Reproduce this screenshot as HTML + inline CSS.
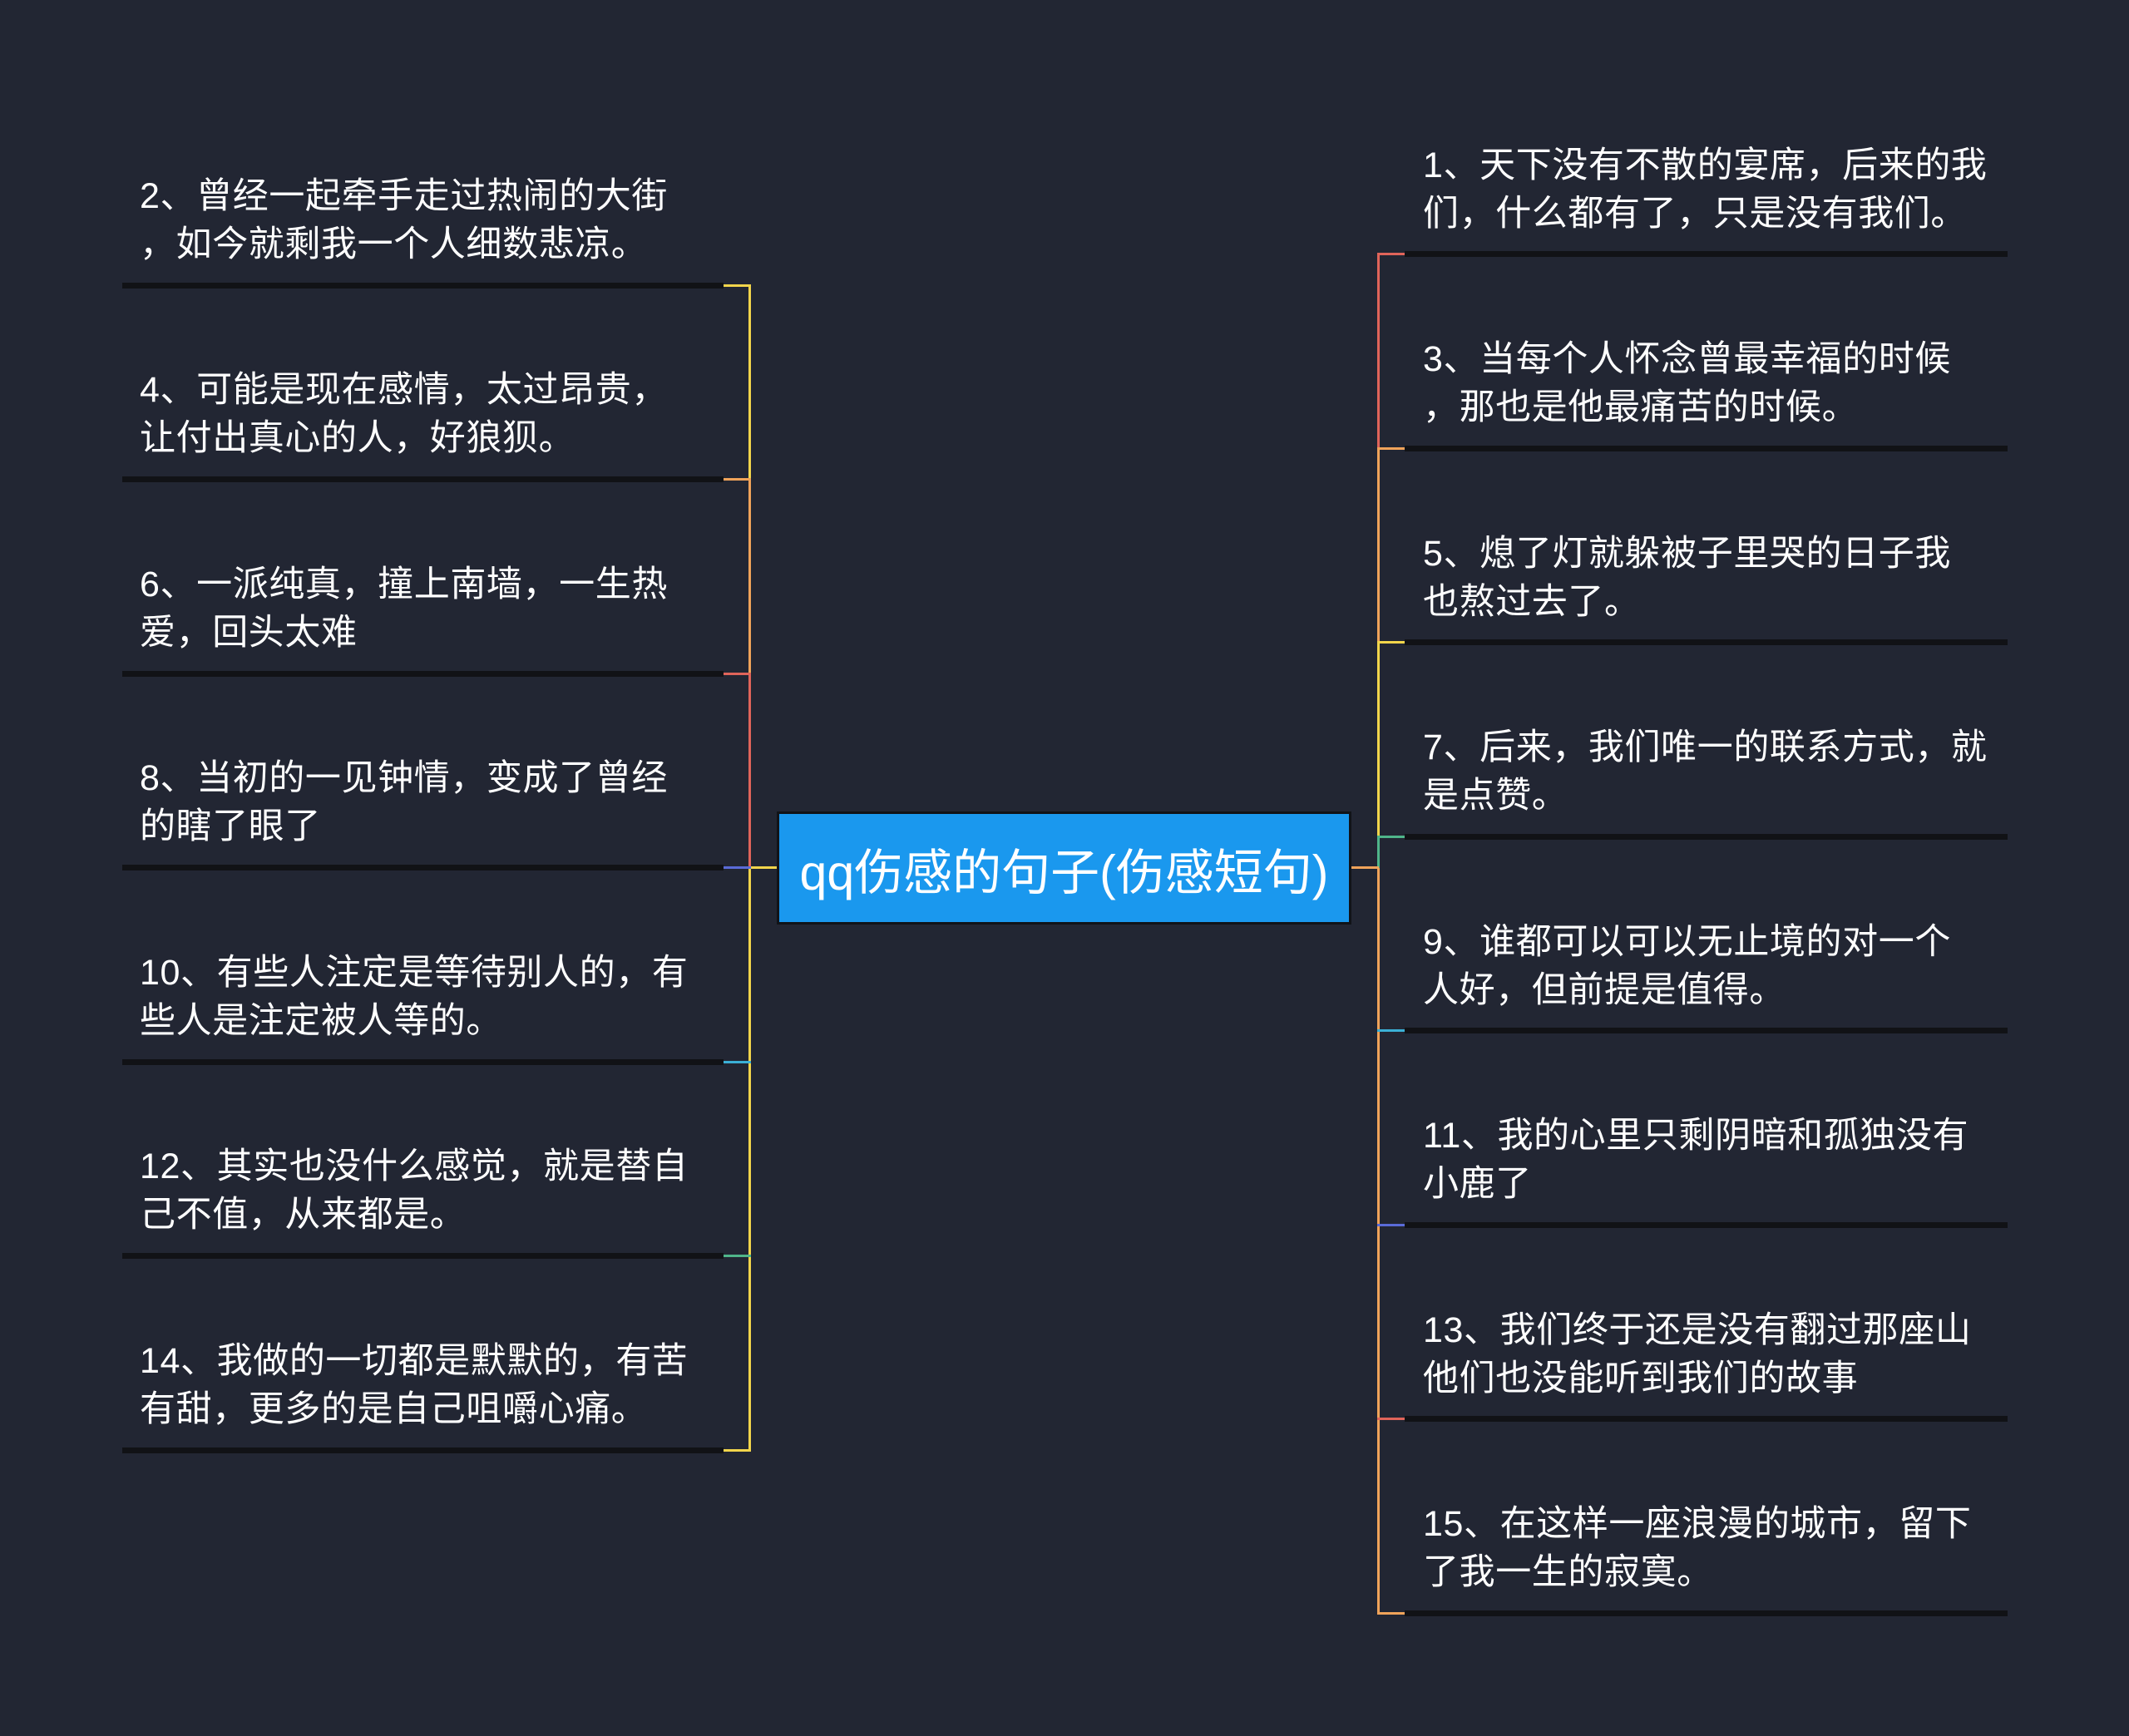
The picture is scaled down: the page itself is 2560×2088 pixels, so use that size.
<!DOCTYPE html>
<html><head><meta charset="utf-8">
<style>
html,body{margin:0;padding:0}
body{width:2560px;height:2088px;background:#222633;position:relative;overflow:hidden;font-family:"Liberation Sans","Noto Sans CJK SC",sans-serif}
.t{position:absolute;color:#fff;font-size:43px;line-height:58px;white-space:nowrap;letter-spacing:0.6px}
.u{position:absolute;height:7px;background:#111216}
.l{position:absolute}
.box{position:absolute;left:934px;top:976px;width:691px;height:136px;background:#1a98ee;border:3px solid #111318;box-sizing:border-box;color:#fff;font-size:59px;display:flex;align-items:center;justify-content:center;white-space:nowrap}
</style></head><body>

<div class="l" style="left:900px;top:343px;width:3px;height:233px;background:#f2d54b"></div>
<div class="l" style="left:900px;top:576px;width:3px;height:234px;background:#f0a35a"></div>
<div class="l" style="left:900px;top:810px;width:3px;height:234px;background:#e0645a"></div>
<div class="l" style="left:900px;top:1044px;width:3px;height:700px;background:#f2d54b"></div>
<div class="l" style="left:870px;top:342px;width:33px;height:3px;background:#f2d54b"></div>
<div class="l" style="left:870px;top:575px;width:33px;height:3px;background:#f0a35a"></div>
<div class="l" style="left:870px;top:809px;width:33px;height:3px;background:#e0645a"></div>
<div class="l" style="left:870px;top:1042px;width:33px;height:3px;background:#5a6bd8"></div>
<div class="l" style="left:870px;top:1276px;width:33px;height:3px;background:#3bb0d6"></div>
<div class="l" style="left:870px;top:1509px;width:33px;height:3px;background:#4fb58a"></div>
<div class="l" style="left:870px;top:1743px;width:33px;height:3px;background:#f2d54b"></div>
<div class="l" style="left:903px;top:1042px;width:31px;height:3px;background:#f2d54b"></div>

<div class="l" style="left:1656px;top:306px;width:3px;height:234px;background:#e0645a"></div>
<div class="l" style="left:1656px;top:540px;width:3px;height:233px;background:#f0a35a"></div>
<div class="l" style="left:1656px;top:773px;width:3px;height:233px;background:#f2d54b"></div>
<div class="l" style="left:1656px;top:1006px;width:3px;height:38px;background:#4fb58a"></div>
<div class="l" style="left:1656px;top:1044px;width:3px;height:897px;background:#f0a35a"></div>
<div class="l" style="left:1656px;top:304px;width:33px;height:3px;background:#e0645a"></div>
<div class="l" style="left:1656px;top:538px;width:33px;height:3px;background:#f0a35a"></div>
<div class="l" style="left:1656px;top:771px;width:33px;height:3px;background:#f2d54b"></div>
<div class="l" style="left:1656px;top:1005px;width:33px;height:3px;background:#4fb58a"></div>
<div class="l" style="left:1656px;top:1238px;width:33px;height:3px;background:#3bb0d6"></div>
<div class="l" style="left:1656px;top:1472px;width:33px;height:3px;background:#5a6bd8"></div>
<div class="l" style="left:1656px;top:1705px;width:33px;height:3px;background:#e0645a"></div>
<div class="l" style="left:1656px;top:1939px;width:33px;height:3px;background:#f0a35a"></div>
<div class="l" style="left:1625px;top:1042px;width:33px;height:3px;background:#f0a35a"></div>

<div class="box">qq伤感的句子(伤感短句)</div>

<div class="u" style="left:147px;top:340px;width:723px"></div>
<div class="t" style="left:168px;top:207px">2、曾经一起牵手走过热闹的大街<br>，如今就剩我一个人细数悲凉。</div>
<div class="u" style="left:147px;top:573px;width:723px"></div>
<div class="t" style="left:168px;top:440px">4、可能是现在感情，太过昂贵，<br>让付出真心的人，好狼狈。</div>
<div class="u" style="left:147px;top:807px;width:723px"></div>
<div class="t" style="left:168px;top:674px">6、一派纯真，撞上南墙，一生热<br>爱，回头太难</div>
<div class="u" style="left:147px;top:1040px;width:723px"></div>
<div class="t" style="left:168px;top:907px">8、当初的一见钟情，变成了曾经<br>的瞎了眼了</div>
<div class="u" style="left:147px;top:1274px;width:723px"></div>
<div class="t" style="left:168px;top:1141px">10、有些人注定是等待别人的，有<br>些人是注定被人等的。</div>
<div class="u" style="left:147px;top:1507px;width:723px"></div>
<div class="t" style="left:168px;top:1374px">12、其实也没什么感觉，就是替自<br>己不值，从来都是。</div>
<div class="u" style="left:147px;top:1741px;width:723px"></div>
<div class="t" style="left:168px;top:1608px">14、我做的一切都是默默的，有苦<br>有甜，更多的是自己咀嚼心痛。</div>

<div class="u" style="left:1689px;top:302px;width:725px"></div>
<div class="t" style="left:1711px;top:170px">1、天下没有不散的宴席，后来的我<br>们，什么都有了，只是没有我们。</div>
<div class="u" style="left:1689px;top:536px;width:725px"></div>
<div class="t" style="left:1711px;top:403px">3、当每个人怀念曾最幸福的时候<br>，那也是他最痛苦的时候。</div>
<div class="u" style="left:1689px;top:769px;width:725px"></div>
<div class="t" style="left:1711px;top:637px">5、熄了灯就躲被子里哭的日子我<br>也熬过去了。</div>
<div class="u" style="left:1689px;top:1003px;width:725px"></div>
<div class="t" style="left:1711px;top:870px">7、后来，我们唯一的联系方式，就<br>是点赞。</div>
<div class="u" style="left:1689px;top:1236px;width:725px"></div>
<div class="t" style="left:1711px;top:1104px">9、谁都可以可以无止境的对一个<br>人好，但前提是值得。</div>
<div class="u" style="left:1689px;top:1470px;width:725px"></div>
<div class="t" style="left:1711px;top:1337px">11、我的心里只剩阴暗和孤独没有<br>小鹿了</div>
<div class="u" style="left:1689px;top:1703px;width:725px"></div>
<div class="t" style="left:1711px;top:1571px">13、我们终于还是没有翻过那座山<br>他们也没能听到我们的故事</div>
<div class="u" style="left:1689px;top:1937px;width:725px"></div>
<div class="t" style="left:1711px;top:1804px">15、在这样一座浪漫的城市，留下<br>了我一生的寂寞。</div>

</body></html>
